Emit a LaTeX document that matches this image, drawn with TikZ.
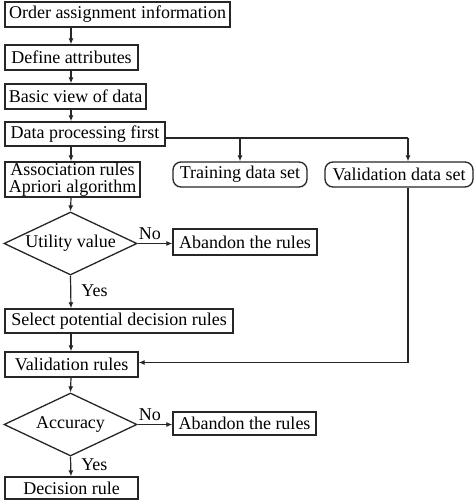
\documentclass[tikz,border=0pt]{standalone}
\usepackage{fontspec}
\setmainfont{Liberation Serif}
\usetikzlibrary{shapes.geometric,arrows.meta}
\begin{document}
\begin{tikzpicture}[x=1pt,y=-1pt,
  every node/.style={font=\fontsize{18}{17.5}\selectfont, inner sep=0pt},
  box/.style={draw=black!85, line width=1.3pt, rectangle, minimum height=#1, align=center},
  box/.default=25pt,
  rbox/.style={draw=black!85, line width=1.3pt, rectangle, rounded corners=8pt, minimum height=25pt},
  dia/.style={draw=black!85, line width=1.3pt, diamond, aspect=2.1, minimum width=133pt, minimum height=63pt},
  arr/.style={draw=black!85, line width=1.2pt, -{Latex[length=6pt,width=5pt]}},
  ln/.style={draw=black!85, line width=1.2pt},
  lbl/.style={font=\fontsize{18}{17.5}\selectfont}]
\useasboundingbox (0,0) rectangle (474,502);
\fill[white] (0,0) rectangle (474,502);
\node[box, line width=2.4pt, minimum width=225pt] (n1) at (117.5,14.5) {Order assignment information};
\node[box, minimum width=133pt] (n2) at (71.5,57.5) {Define attributes};
\node[box, minimum width=141pt] (n3) at (75.5,96.5) {Basic view of data};
\node[box=24pt, minimum width=160pt] (n4) at (85,134) {Data processing first};
\node[box=35pt, minimum width=135pt] (n5) at (72.5,179.5) {Association rules\\Apriori algorithm};
\node[rbox, minimum width=134pt] (tds) at (240,174.5) {Training data set};
\node[rbox, minimum width=148pt] (vds) at (399,174.5) {Validation data set};
\node[dia] (d1) at (70.5,243.5) {Utility value};
\node[box=26pt, minimum width=144pt] (ab1) at (245,242) {Abandon the rules};
\node[box=24pt, minimum width=228pt] (n6) at (119,321) {Select potential decision rules};
\node[box, minimum width=133pt] (vr) at (71.5,364.5) {Validation rules};
\node[dia] (d2) at (70.5,424.5) {Accuracy};
\node[box=23pt, minimum width=143pt] (ab2) at (244.5,423.5) {Abandon the rules};
\node[box=22pt, minimum width=133pt] (dr) at (71.5,488) {Decision rule};
\coordinate (ax) at (71,0);
\coordinate (c2) at (408,138);
\draw[arr] (n1.south -| ax) -- (n2.north -| ax);
\draw[arr] (n2.south -| ax) -- (n3.north -| ax);
\draw[arr] (n3.south -| ax) -- (n4.north -| ax);
\draw[arr] (n4.south -| ax) -- (n5.north -| ax);
\draw[arr] (n5.south -| ax) -- (d1.north);
\draw[ln] (n4.east |- c2) -- (c2);
\draw[arr] (tds.north |- c2) -- (tds.north);
\draw[arr] (c2) -- (c2 |- vds.north);
\draw[arr] (d1.east) -- node[lbl, above=3pt, pos=0.35] {No} (ab1.west |- d1.east);
\draw[arr] (d1.south) -- node[lbl, right=10pt, pos=0.45] {Yes} (n6.north -| ax);
\draw[arr] (n6.south -| ax) -- (vr.north -| ax);
\draw[arr] (c2 |- vds.south) |- ([yshift=2pt]vr.east);
\draw[arr] (vr.south -| ax) -- (d2.north);
\draw[arr] (d2.east) -- node[lbl, above=3pt, pos=0.35] {No} (ab2.west |- d2.east);
\draw[arr] (d2.south) -- node[lbl, right=10pt, pos=0.4] {Yes} (dr.north -| ax);
\end{tikzpicture}
\end{document}
